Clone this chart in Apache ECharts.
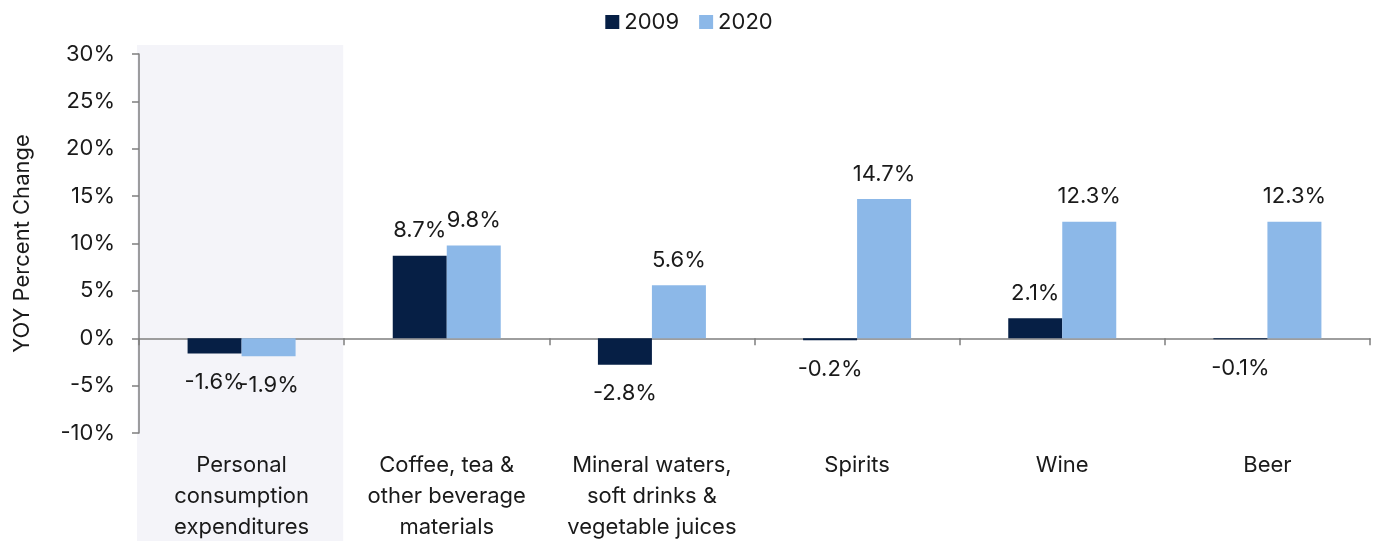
<!DOCTYPE html>
<html><head><meta charset="utf-8">
<script src="https://cdn.jsdelivr.net/npm/echarts@6/dist/echarts.min.js"></script>
<style>html,body{margin:0;padding:0;background:#fff}#c{width:1378px;height:541px}</style>
</head><body><div id="c"></div>
<script>
const categories = ["Personal\nconsumption\nexpenditures", "Coffee, tea &\nother beverage\nmaterials", "Mineral waters,\nsoft drinks &\nvegetable juices", "Spirits", "Wine", "Beer"];
const seriesNames = ["2009", "2020"];
const values2009 = [-1.6, 8.7, -2.8, -0.2, 2.1, -0.1];
const values2020 = [-1.9, 9.8, 5.6, 14.7, 12.3, 12.3];
const yTicks = {min: -10, max: 30, interval: 5};
const colors = ["#061f45", "#8cb8e8"];
const FONT = "Inter";
const FS = 22;
const TXT = "#1a1a1a";

function mkData(arr){
  return arr.map(v => ({value: v, label: {position: v < 0 ? 'bottom' : 'top', distance: v < 0 ? 18 : 14}}));
}
const chart = echarts.init(document.getElementById('c'));
const opt = {
  animation: false,
  textStyle: {fontFamily: FONT},
  legend: {
    top: 6, left: 'center', itemWidth: 14, itemHeight: 14, itemGap: 20,
    icon: 'rect',
    textStyle: {fontFamily: FONT, fontSize: FS, color: TXT},
    data: seriesNames
  },
  grid: {left: 139, right: 8, top: 54, bottom: 108, containLabel: false, outerBoundsMode: 'none'},
  xAxis: [{
    type: 'category', data: categories,
    axisLine: {onZero: true, lineStyle: {color: '#7f7f7f', width: 1.5}},
    axisTick: {show: true, length: 7, inside: false, lineStyle: {color: '#7f7f7f', width: 1.5}},
    axisLabel: {show: false}
  }, {
    type: 'category', data: categories, position: 'bottom',
    axisLine: {show: false, onZero: false}, axisTick: {show: false},
    axisLabel: {fontFamily: FONT, fontSize: FS, color: TXT, lineHeight: 31, margin: 17, interval: 0}
  }],
  yAxis: {
    type: 'value', min: yTicks.min, max: yTicks.max, interval: yTicks.interval,
    name: 'YOY Percent Change', nameLocation: 'middle', nameGap: 106,
    nameTextStyle: {fontFamily: FONT, fontSize: FS, color: TXT},
    axisLine: {show: true, lineStyle: {color: '#7f7f7f', width: 1.5}},
    axisTick: {show: true, length: 7, lineStyle: {color: '#7f7f7f', width: 1.5}},
    splitLine: {show: false},
    axisLabel: {fontFamily: FONT, fontSize: FS, color: TXT, margin: 24, formatter: v => v + '%'}
  },
  series: [values2009, values2020].map((arr, i) => ({
    name: seriesNames[i], type: 'bar', xAxisIndex: 0, barWidth: 54, barGap: '0%',
    itemStyle: {color: colors[i]},
    label: {show: true, fontFamily: FONT, fontSize: FS, color: TXT,
      formatter: p => p.value.toFixed(1) + '%'},
    data: mkData(arr)
  }))
};
chart.setOption(opt);
const x0 = chart.convertToPixel({xAxisIndex: 0}, categories[0]);
const x1 = chart.convertToPixel({xAxisIndex: 0}, categories[1]);
const bw = x1 - x0;
chart.setOption({
  graphic: [{
    type: 'rect', z: -10, silent: true,
    shape: {x: x0 - bw / 2 - 2, y: 45, width: bw + 1, height: 541 - 45},
    style: {fill: '#f4f4f9'}
  }]
});
</script></body></html>
